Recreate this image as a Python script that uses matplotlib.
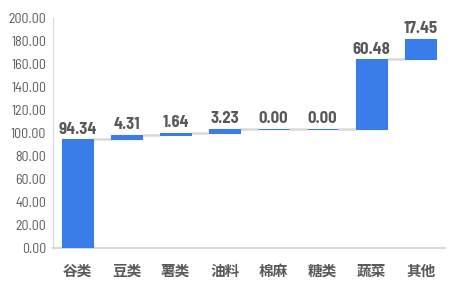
import matplotlib
matplotlib.use("Agg")
import matplotlib.pyplot as plt
import numpy as np

categories = ["谷类", "豆类", "薯类", "油料", "棉麻", "糖类", "蔬菜", "其他"]
values = [94.34, 4.31, 1.64, 3.23, 0.00, 0.00, 60.48, 17.45]

bar_color = "#3B7DE8"
text_color = "#595959"
narrow = ["Barlow Semi Condensed", "DejaVu Sans"]

ends = np.cumsum(values)
starts = ends - np.array(values)
x = np.arange(len(categories))
width = 0.63

fig = plt.figure(figsize=(4.55, 2.91), dpi=100)
ax = fig.add_axes([0.1165, 0.148, 0.862, 0.79])

ax.bar(x, values, width=width, bottom=starts, color=bar_color,
       edgecolor=bar_color, linewidth=0.8, zorder=3)

# connector lines between bars
for i in range(len(categories) - 1):
    ax.plot([x[i] + width / 2, x[i + 1] - width / 2], [ends[i], ends[i]],
            color="#D9D9D9", linewidth=1.8, zorder=2, solid_capstyle="butt")

for xi, top, v in zip(x, ends, values):
    ax.text(xi, top + 2.5, f"{v:.2f}", ha="center", va="bottom",
            fontsize=12, fontweight="bold", color=text_color, family=narrow)

ax.set_xlim(-0.5, len(categories) - 0.5)
ax.set_ylim(0, 200)
ax.set_yticks(np.arange(0, 201, 20))
ax.set_yticklabels([f"{t:.2f}" for t in np.arange(0, 201, 20)],
                   family=narrow, fontsize=10, color=text_color)
ax.set_xticks(x)
ax.set_xticklabels(categories, family=["Noto Sans CJK SC", "DejaVu Sans"],
                   fontsize=10.5, fontweight="bold", color=text_color)

for s in ["top", "right"]:
    ax.spines[s].set_visible(False)
ax.spines["left"].set_color("#D9D9D9")
ax.spines["bottom"].set_color("#D9D9D9")
ax.spines["bottom"].set_linewidth(1.5)
ax.tick_params(axis="both", length=0)
ax.tick_params(axis="y", pad=5)
ax.tick_params(axis="x", pad=11)

fig.savefig("out.png", dpi=100)
